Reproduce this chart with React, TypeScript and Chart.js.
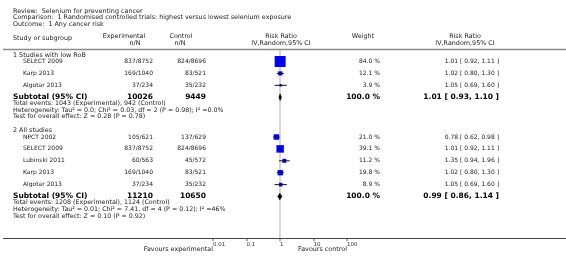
import React, { useEffect, useRef } from 'react';
import { Chart, registerables } from 'chart.js';
Chart.register(...registerables);

// ---------- data ----------
const reviewTitle = 'Review:  Selenium for preventing cancer';
const comparisonTitle = 'Comparison:  1 Randomised controlled trials: highest versus lowest selenium exposure';
const outcomeTitle = 'Outcome:  1 Any cancer risk';

const group1Label = '1 Studies with low RoB';
const group1Studies = ['SELECT 2009', 'Karp 2013', 'Algotar 2013'];
const group1Exp = ['837/8752', '169/1040', '37/234'];
const group1Ctrl = ['824/8696', '83/521', '35/232'];
const group1Weight = [84.0, 12.1, 3.9];
const group1RR = [1.01, 1.02, 1.05];
const group1Lo = [0.92, 0.8, 0.69];
const group1Hi = [1.11, 1.3, 1.6];
const group1TotalN = ['10026', '9449'];
const group1Pooled = [1.01, 0.93, 1.1];
const group1Notes = [
  'Total events: 1043 (Experimental), 942 (Control)',
  'Heterogeneity: Tau\u00B2 = 0.0; Chi\u00B2 = 0.03, df = 2 (P = 0.98); I\u00B2 =0.0%',
  'Test for overall effect: Z = 0.28 (P = 0.78)',
];

const group2Label = '2 All studies';
const group2Studies = ['NPCT 2002', 'SELECT 2009', 'Lubinski 2011', 'Karp 2013', 'Algotar 2013'];
const group2Exp = ['105/621', '837/8752', '60/563', '169/1040', '37/234'];
const group2Ctrl = ['137/629', '824/8696', '45/572', '83/521', '35/232'];
const group2Weight = [21.0, 39.1, 11.2, 19.8, 8.9];
const group2RR = [0.78, 1.01, 1.35, 1.02, 1.05];
const group2Lo = [0.62, 0.92, 0.94, 0.8, 0.69];
const group2Hi = [0.98, 1.11, 1.96, 1.3, 1.6];
const group2TotalN = ['11210', '10650'];
const group2Pooled = [0.99, 0.86, 1.14];
const group2Notes = [
  'Total events: 1208 (Experimental), 1124 (Control)',
  'Heterogeneity: Tau\u00B2 = 0.01; Chi\u00B2 = 7.41, df = 4 (P = 0.12); I\u00B2 =46%',
  'Test for overall effect: Z = 0.10 (P = 0.92)',
];

const tickValues = [0.01, 0.1, 1, 10, 100];
const tickLabels = ['0.01', '0.1', '1', '10', '100'];
const favoursLeft = 'Favours experimental';
const favoursRight = 'Favours control';

// ---------- layout / style ----------
const W = 566;
const H = 269;
const FONT = '"DejaVu Sans", Verdana, sans-serif';
const TEXT = '#222';
const BLUE = '#0000ff';
const SQ_K = 1.2; // square side per sqrt(weight)
const ROW = 11.9;
const HEAD_TO_STUDY = 6.2;
const SUB_TO_NOTE = 6;
const NOTE_STEP = 6.8;
const NOTE_TO_HEAD = 14;
const FIRST_HEAD = 5.3;
const DIAMOND_H = 3.2;

type Group = {
  label: string; studies: string[]; exp: string[]; ctrl: string[];
  weight: number[]; rr: number[]; lo: number[]; hi: number[];
  totalN: string[]; pooled: number[]; notes: string[];
};
const groups: Group[] = [
  { label: group1Label, studies: group1Studies, exp: group1Exp, ctrl: group1Ctrl, weight: group1Weight, rr: group1RR, lo: group1Lo, hi: group1Hi, totalN: group1TotalN, pooled: group1Pooled, notes: group1Notes },
  { label: group2Label, studies: group2Studies, exp: group2Exp, ctrl: group2Ctrl, weight: group2Weight, rr: group2RR, lo: group2Lo, hi: group2Hi, totalN: group2TotalN, pooled: group2Pooled, notes: group2Notes },
];

// row positions computed from the row sequence
function layoutRows() {
  let y = FIRST_HEAD;
  return groups.map((g) => {
    const head = y;
    const studyY = g.studies.map((_, i) => head + HEAD_TO_STUDY + i * ROW);
    const sub = studyY[studyY.length - 1] + ROW;
    const noteY = g.notes.map((_, j) => sub + SUB_TO_NOTE + j * NOTE_STEP);
    y = noteY[noteY.length - 1] + NOTE_TO_HEAD;
    return { head, studyY, sub, noteY };
  });
}

const fmt = (v: number) => v.toFixed(2);

export default function App() {
  const ref = useRef<HTMLCanvasElement | null>(null);
  useEffect(() => {
    document.body.style.margin = '0';
    const canvas = ref.current;
    if (!canvas) return;
    const rows = layoutRows();
    const datasets: any[] = [];
    groups.forEach((g, gi) => {
      const r = rows[gi];
      g.studies.forEach((_, i) => {
        datasets.push({
          type: 'line',
          data: [{ x: g.lo[i], y: r.studyY[i] }, { x: g.hi[i], y: r.studyY[i] }],
          borderColor: '#111', borderWidth: 1, pointRadius: 0, order: 0,
        });
      });
      datasets.push({
        type: 'scatter',
        data: g.rr.map((v, i) => ({ x: v, y: r.studyY[i] })),
        pointStyle: 'rect',
        pointRadius: g.weight.map((w) => (SQ_K * Math.sqrt(w)) / Math.SQRT2),
        backgroundColor: BLUE, borderWidth: 0, order: 1,
      });
      const [est, lo, hi] = g.pooled;
      datasets.push({
        type: 'line',
        data: [
          { x: lo, y: r.sub }, { x: est, y: r.sub - DIAMOND_H },
          { x: hi, y: r.sub }, { x: est, y: r.sub + DIAMOND_H }, { x: lo, y: r.sub },
        ],
        borderColor: '#000', backgroundColor: '#000', borderWidth: 0.6,
        pointRadius: 0, fill: 'shape', order: 0, tension: 0,
      });
    });

    const textPlugin = {
      id: 'forestText',
      beforeDatasetsDraw(chart: any) {
        const ctx = chart.ctx;
        const xs = chart.scales.x;
        ctx.save();
        // header separator
        ctx.strokeStyle = '#8a8a8a';
        ctx.lineWidth = 1.5;
        ctx.beginPath();
        ctx.moveTo(3, chart.chartArea.top - 0.5);
        ctx.lineTo(W, chart.chartArea.top - 0.5);
        ctx.stroke();
        // axis line spanning full width
        ctx.strokeStyle = '#444';
        ctx.lineWidth = 1;
        ctx.beginPath();
        ctx.moveTo(3, xs.top + 0.5);
        ctx.lineTo(W, xs.top + 0.5);
        ctx.stroke();
        ctx.restore();
      },
      afterDraw(chart: any) {
        const ctx = chart.ctx;
        const ys = chart.scales.y;
        const xs = chart.scales.x;
        const txt = (s: string, x: number, y: number, align: CanvasTextAlign, font: string, color = TEXT) => {
          ctx.font = font;
          ctx.fillStyle = color;
          ctx.textAlign = align;
          ctx.textBaseline = 'middle';
          ctx.fillText(s, x, y);
        };
        ctx.save();
        const f = `6px ${FONT}`;
        const ft = `6.4px ${FONT}`;
        const fn = `6.3px ${FONT}`;
        const fb = `bold 7.5px ${FONT}`;
        // titles
        txt(reviewTitle, 13, 11.3, 'left', ft);
        txt(comparisonTitle, 13, 17.8, 'left', ft);
        txt(outcomeTitle, 13, 24, 'left', ft);
        // column headers
        txt('Study or subgroup', 13, 38.5, 'left', ft);
        txt('Experimental', 124, 36.7, 'center', ft);
        txt('n/N', 135, 43, 'center', ft);
        txt('Control', 181, 36.7, 'center', ft);
        txt('n/N', 180, 43, 'center', ft);
        txt('Risk Ratio', 281, 36.7, 'center', ft);
        txt('IV,Random,95% CI', 281, 43, 'center', ft);
        txt('Weight', 363, 36.7, 'center', ft);
        txt('Risk Ratio', 465, 36.7, 'center', ft);
        txt('IV,Random,95% CI', 465, 43, 'center', ft);
        const rows = layoutRows();
        groups.forEach((g, gi) => {
          const r = rows[gi];
          txt(g.label, 13, ys.getPixelForValue(r.head), 'left', ft);
          g.studies.forEach((s, i) => {
            const py = ys.getPixelForValue(r.studyY[i]);
            txt(s, 23, py, 'left', f);
            txt(g.exp[i], 153, py, 'right', f);
            txt(g.ctrl[i], 206, py, 'right', f);
            txt(g.weight[i].toFixed(1) + ' %', 380, py, 'right', f);
            txt(`${fmt(g.rr[i])} [ ${fmt(g.lo[i])}, ${fmt(g.hi[i])} ]`, 499, py, 'right', f);
          });
          const sy = ys.getPixelForValue(r.sub);
          txt('Subtotal (95% CI)', 13, sy, 'left', fb, '#000');
          txt(g.totalN[0], 153, sy, 'right', fb, '#000');
          txt(g.totalN[1], 206, sy, 'right', fb, '#000');
          txt('100.0 %', 380, sy, 'right', fb, '#000');
          txt(`${fmt(g.pooled[0])} [ ${fmt(g.pooled[1])}, ${fmt(g.pooled[2])} ]`, 499, sy, 'right', fb, '#000');
          g.notes.forEach((n, j) => txt(n, 13, ys.getPixelForValue(r.noteY[j]), 'left', fn));
        });
        const fy = xs.top + 11;
        txt(favoursLeft, xs.getPixelForValue(tickValues[0]), fy, 'right', ft);
        txt(favoursRight, xs.getPixelForValue(tickValues[tickValues.length - 1]), fy, 'right', ft);
        ctx.restore();
      },
    };

    const chart = new Chart(canvas, {
      type: 'scatter',
      data: { datasets },
      options: {
        animation: false,
        responsive: false,
        devicePixelRatio: 1,
        layout: { padding: { left: 213, right: W - 347, top: 50, bottom: 0 } },
        plugins: { legend: { display: false }, tooltip: { enabled: false } },
        scales: {
          x: {
            type: 'logarithmic',
            min: tickValues[0],
            max: tickValues[tickValues.length - 1],
            afterBuildTicks: (scale: any) => {
              scale.ticks = tickValues.map((v) => ({ value: v }));
            },
            afterFit: (scale: any) => {
              scale.height = 31;
            },
            ticks: {
              autoSkip: false,
              maxRotation: 0,
              align: 'start',
              padding: 0,
              color: '#333',
              font: { family: FONT, size: 5.5 },
              callback: (v: any) => {
                const i = tickValues.indexOf(Number(v));
                return i >= 0 ? tickLabels[i] : '';
              },
            },
            grid: {
              drawOnChartArea: true,
              drawTicks: true,
              tickLength: 3,
              tickWidth: 1,
              tickColor: '#555',
              lineWidth: 2,
              color: (c: any) => (c.tick && c.tick.value === 1 ? '#d6d6d6' : 'rgba(0,0,0,0)'),
            },
            border: { display: false },
          },
          y: {
            type: 'linear',
            display: false,
            reverse: true,
            min: 0,
            max: 188,
          },
        },
      },
      plugins: [textPlugin],
    } as any);
    return () => chart.destroy();
  }, []);
  return <canvas ref={ref} width={W} height={H} style={{ display: 'block', width: W, height: H }} />;
}
